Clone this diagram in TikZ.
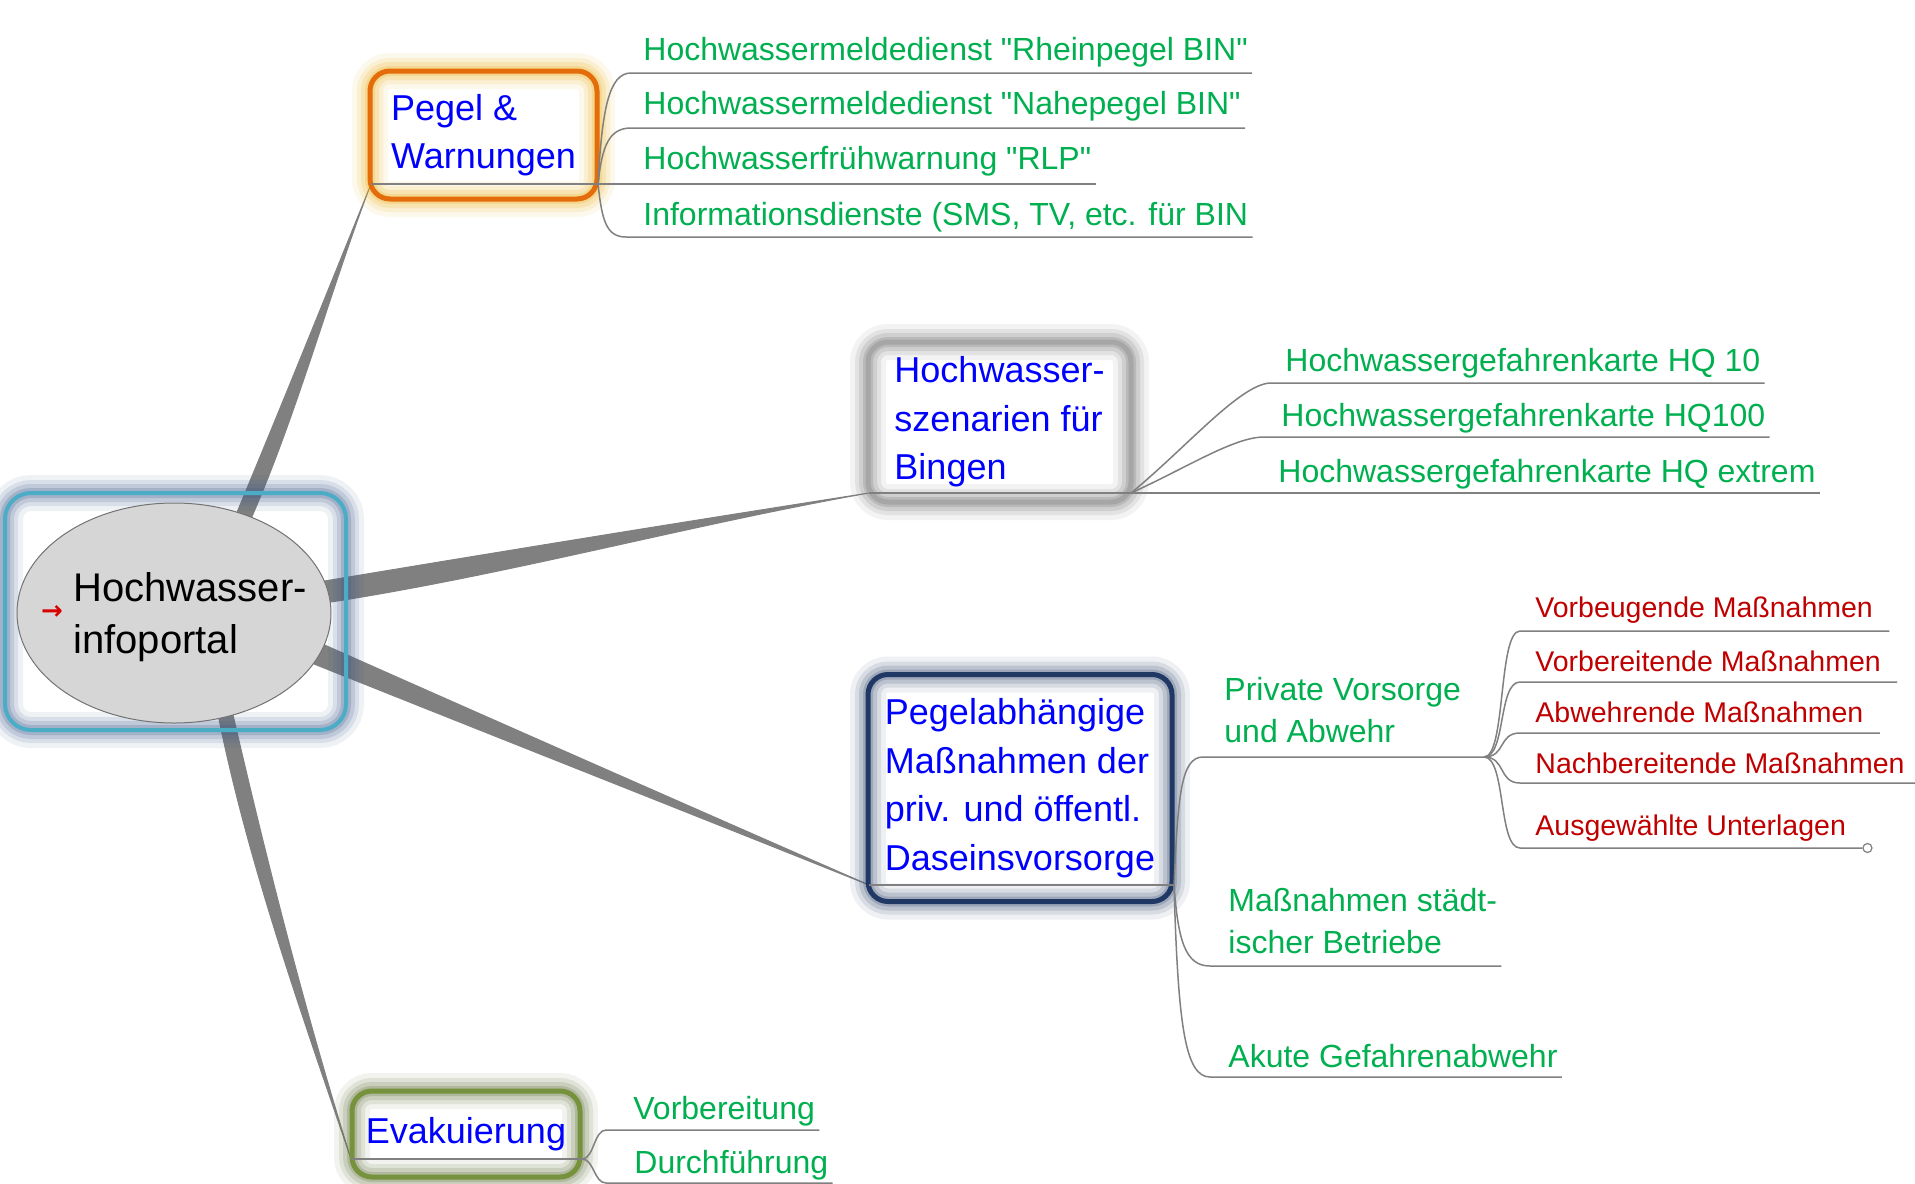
\documentclass[tikz,border=0pt]{standalone}
\usepackage{fontspec}
\setmainfont{Liberation Sans}[Ligatures=TeXOff]
\newfontfamily\symfont{DejaVu Sans}
\usetikzlibrary{shapes.geometric}

\definecolor{limbgray}{RGB}{128,128,128}
\definecolor{twiggray}{RGB}{128,128,128}
\definecolor{topicblue}{RGB}{0,0,255}
\definecolor{leafgreen}{RGB}{0,176,80}
\definecolor{leafred}{RGB}{192,0,0}
\definecolor{hubcyan}{RGB}{75,172,198}
\definecolor{hubglow}{RGB}{60,90,140}
\definecolor{hubfill}{RGB}{214,214,214}
\definecolor{pegelorange}{RGB}{228,108,10}
\definecolor{pegelglow}{RGB}{235,175,20}
\definecolor{szengray}{RGB}{166,166,166}
\definecolor{szenglow}{RGB}{110,110,110}
\definecolor{massnnavy}{RGB}{31,56,100}
\definecolor{massnglow}{RGB}{50,70,110}
\definecolor{evakolive}{RGB}{118,146,60}
\definecolor{evakglow}{RGB}{90,110,50}

\pgfdeclarelayer{paper}
\pgfdeclarelayer{limbs}
\pgfsetlayers{paper,limbs,main}

\begin{document}
\begin{tikzpicture}[x=0.5pt,y=-0.5pt]
        \tikzset{glow/.style={preaction={draw=#1,line width=18pt,opacity=.08},
                              preaction={draw=#1,line width=13pt,opacity=.12},
                              preaction={draw=#1,line width=9pt,opacity=.16},
                              preaction={draw=#1,line width=5pt,opacity=.22}}}
        \tikzstyle{hubframe}=[rectangle,rounded corners=13pt,draw=hubcyan,line width=2pt,glow=hubglow,minimum width=170.5pt,minimum height=118.5pt]
        \tikzstyle{hub}=[ellipse,draw=black!55,line width=.5pt,fill=hubfill,minimum width=157pt,minimum height=110pt,inner sep=0pt]
        \tikzstyle{hubtext}=[anchor=west,inner sep=0pt,align=left,font=\fontsize{20}{26}\selectfont]
        \tikzstyle{icon}=[inner sep=0pt,text=red!85!black,font=\symfont\bfseries\fontsize{13}{13}\selectfont]
        \tikzstyle{topic}=[rectangle,rounded corners=10pt,line width=2.5pt,align=left,inner ysep=0pt,text=topicblue,font=\fontsize{18}{24.25}\selectfont]
        \tikzstyle{leaf}=[anchor=west,inner xsep=2pt,inner ysep=0pt,align=left,text=leafgreen,font=\fontsize{16}{21}\selectfont]
        \tikzstyle{subleaf}=[leaf,inner xsep=8pt,text=leafred,font=\fontsize{14.25}{18}\selectfont]
        \tikzstyle{limb}=[fill=limbgray,draw=limbgray,line width=.5pt,line join=round]
        \tikzstyle{twig}=[draw=twiggray,line width=.75pt]
        \tikzstyle{rule}=[draw=twiggray,line width=1pt]
        \tikzstyle{knob}=[circle,draw=twiggray,fill=white,line width=.6pt,minimum size=4.5pt,inner sep=0pt,anchor=west]

        \begin{pgfonlayer}{paper}
            \fill[white] (0,0) rectangle (1915,1183);
        \end{pgfonlayer}
        \useasboundingbox (0,0) rectangle (1915,1183);

        % centre
        \node [hubframe] (portalframe) at (175.5,611.5) {};
        \node [hub] (portal) at (174,613) {};
        \node [hubtext] (portaltxt) at (73,617) {Hochwasser-\\infoportal};
        \node [icon] (pin) at (52,612) {→};

        % main topics
        \node [topic,draw=pegelorange,glow=pegelglow,minimum width=113.5pt,minimum height=64pt] (pegel) at (483.5,135) {Pegel \&\\Warnungen};
        \node [topic,draw=szengray,glow=szenglow,minimum width=131.5pt,minimum height=80pt] (szen) at (999.5,422) {Hochwasser-\\szenarien für\\Bingen};
        \node [topic,draw=massnnavy,glow=massnglow,minimum width=152pt,minimum height=113.5pt] (massn) at (1020,788) {Pegelabhängige\\Maßnahmen der\\priv. und öffentl.\\Daseinsvorsorge};
        \node [topic,draw=evakolive,glow=evakglow,minimum width=114pt,minimum height=43pt] (evak) at (466,1134) {Evakuierung};

        \coordinate (pegel-ul) at (371,184);
        \coordinate (pegel-ur) at (598,184);
        \coordinate (szen-ul) at (869,493);
        \coordinate (szen-ur) at (1131,493);
        \coordinate (massn-ul) at (869,885);
        \coordinate (massn-ur) at (1174,885);
        \coordinate (evak-ul) at (351,1159);
        \coordinate (evak-ur) at (582,1159);

        % leaves
        \node [leaf] (p1) at (639,52) {Hochwassermeldedienst "Rheinpegel BIN"};
        \node [leaf] (p2) at (639,106) {Hochwassermeldedienst "Nahepegel BIN"};
        \node [leaf] (p3) at (639,161) {Hochwasserfrühwarnung "RLP"};
        \node [leaf] (p4) at (639,217) {Informationsdienste (SMS, TV, etc. für BIN};
        \coordinate (p1-in) at (631,73);
        \coordinate (p2-in) at (631,128);
        \coordinate (p4-in) at (626,237);

        \node [leaf] (s1) at (1281,363) {Hochwassergefahrenkarte HQ 10};
        \node [leaf] (s2) at (1277,418) {Hochwassergefahrenkarte HQ100};
        \node [leaf] (s3) at (1274,474) {Hochwassergefahrenkarte HQ extrem};
        \coordinate (s1-in) at (1271,383);
        \coordinate (s2-in) at (1264,437);

        \node [leaf] (m1) at (1220,710) {Private Vorsorge\\und Abwehr};
        \node [leaf] (m2) at (1224,921) {Maßnahmen städt-\\ischer Betriebe};
        \node [leaf] (m3) at (1224,1056) {Akute Gefahrenabwehr};
        \coordinate (m1-in) at (1203,757);
        \coordinate (m1-out) at (1484,757);
        \coordinate (m2-in) at (1210,966);
        \coordinate (m3-in) at (1210,1077);

        \node [subleaf] (v1) at (1519,610) {Vorbeugende Maßnahmen};
        \node [subleaf] (v2) at (1519,661) {Vorbereitende Maßnahmen};
        \node [subleaf] (v3) at (1519,712) {Abwehrende Maßnahmen};
        \node [subleaf] (v4) at (1519,763) {Nachbereitende Maßnahmen};
        \node [subleaf] (v5) at (1519,828) {Ausgewählte Unterlagen};
        \coordinate (v1-in) at (1520,631);
        \coordinate (v2-in) at (1520,682);
        \coordinate (v3-in) at (1520,733);
        \coordinate (v4-in) at (1520,783);
        \coordinate (v5-in) at (1520,848);

        \node [leaf] (e1) at (629,1111) {Vorbereitung};
        \node [leaf] (e2) at (630,1165) {Durchführung};
        \coordinate (e1-in) at (606,1130);
        \coordinate (e2-in) at (606,1183);

        % tapered branches
        \begin{pgfonlayer}{limbs}
            \fill[limb] (portal.58) .. controls +(45,-108) and +(-42,104) .. (pegel-ul) .. controls +(-40,104) and +(47,-108) .. (portal.51) -- cycle;
            \fill[limb] (portal.12) .. controls +(180,-30) and +(-180,28) .. (szen-ul) .. controls +(-180,32) and +(180,-28) .. (portal.4) -- cycle;
            \fill[limb] (portal.348) .. controls +(180,80) and +(-180,-79) .. (massn-ul) .. controls +(-185,-74) and +(185,74) .. (portal.340) -- cycle;
            \fill[limb] (portal.293) .. controls +(30,147) and +(-50,-147) .. (evak-ul) .. controls +(-46,-147) and +(34,147) .. (portal.300) -- cycle;
        \end{pgfonlayer}

        % twigs
        \draw[rule] (pegel-ul) -- (pegel-ur) -- (pegel-ur -| p3.east);
        \draw[twig] (pegel-ur) .. controls +(4,-75) and +(-22,0) .. (p1-in) -- (p1-in -| p1.east);
        \draw[twig] (pegel-ur) .. controls +(4,-38) and +(-22,0) .. (p2-in) -- (p2-in -| p2.east);
        \draw[twig] (pegel-ur) .. controls +(4,36) and +(-20,0) .. (p4-in) -- (p4-in -| p4.east);

        \draw[rule] (szen-ul) -- (szen-ur) -- (szen-ur -| s3.east);
        \draw[twig] (szen-ur) .. controls +(55,-45) and +(-30,0) .. (s1-in) -- (s1-in -| s1.east);
        \draw[twig] (szen-ur) .. controls +(55,-25) and +(-30,0) .. (s2-in) -- (s2-in -| s2.east);

        \draw[rule] (massn-ul) -- (massn-ur);
        \draw[twig] (massn-ur) .. controls +(4,-90) and +(-22,0) .. (m1-in) -- (m1-out);
        \draw[twig] (massn-ur) .. controls +(4,55) and +(-25,0) .. (m2-in) -- (m2-in -| m2.east);
        \draw[twig] (massn-ur) .. controls +(4,140) and +(-25,0) .. (m3-in) -- (m3-in -| m3.east);

        \draw[twig] (m1-out) .. controls +(22,0) and +(-22,0) .. (v1-in) -- (v1-in -| v1.east);
        \draw[twig] (m1-out) .. controls +(22,0) and +(-22,0) .. (v2-in) -- (v2-in -| v2.east);
        \draw[twig] (m1-out) .. controls +(22,0) and +(-22,0) .. (v3-in) -- (v3-in -| v3.east);
        \draw[twig] (m1-out) .. controls +(22,0) and +(-22,0) .. (v4-in) -- (v4-in -| v4.east);
        \draw[twig] (m1-out) .. controls +(22,0) and +(-22,0) .. (v5-in) -- (v5-in -| v5.east);
        \node [knob] (knob) at (v5-in -| v5.east) {};

        \draw[rule] (evak-ul) -- (evak-ur);
        \draw[twig] (evak-ur) .. controls +(12,0) and +(-12,0) .. (e1-in) -- (e1-in -| e1.east);
        \draw[twig] (evak-ur) .. controls +(12,0) and +(-12,0) .. (e2-in) -- (e2-in -| e2.east);
\end{tikzpicture}
\end{document}
